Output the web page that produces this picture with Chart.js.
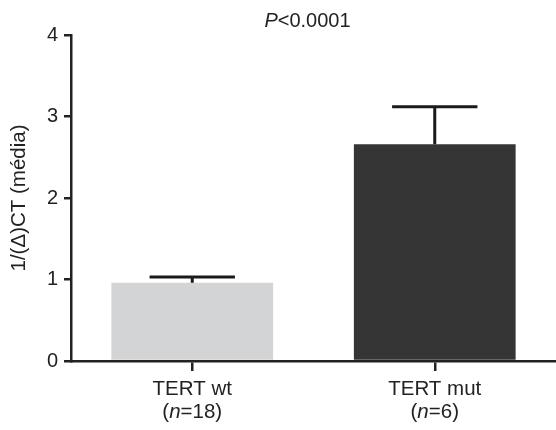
<!DOCTYPE html>
<html>
<head>
<meta charset="utf-8">
<script src="https://cdn.jsdelivr.net/npm/chart.js@4.4.1/dist/chart.umd.min.js"></script>
<style>
    html, body { margin: 0; padding: 0; background: #fff; }
    #wrap { width: 556px; height: 430px; position: relative; }
</style>
</head>
<body>
<div id="wrap"><canvas id="ct_chart"></canvas></div>
<script>
const groups = ['TERT wt', 'TERT mut'];
const groupN = ['18', '6'];
const means = [0.96, 2.66];
const errors = [0.07, 0.46];
const yTicks = [0, 1, 2, 3, 4];
const pLabel = '<0.0001';

const FONT = "'Liberation Sans', Arial, Helvetica, sans-serif";
const INK = '#222222';

// error bars (upper half only), cap + stem
const errorBars = {
    id: 'errorBars',
    afterDatasetsDraw(chart) {
        const { ctx, scales: { x, y } } = chart;
        ctx.save();
        ctx.strokeStyle = '#1a1a1a';
        ctx.lineWidth = 3;
        means.forEach((m, i) => {
            const cx = x.getPixelForValue(i);
            const yTop = y.getPixelForValue(m + errors[i]);
            const yBar = y.getPixelForValue(m);
            const step = x.getPixelForValue(1) - x.getPixelForValue(0);
            const capHalf = step * 0.176;
            ctx.beginPath();
            ctx.moveTo(cx, yBar);
            ctx.lineTo(cx, yTop);
            ctx.moveTo(cx - capHalf, yTop);
            ctx.lineTo(cx + capHalf, yTop);
            ctx.stroke();
        });
        ctx.restore();
    }
};

// title with italic P and two-line category labels with italic n
const textBits = {
    id: 'textBits',
    afterDraw(chart) {
        const { ctx, chartArea, scales: { x } } = chart;
        ctx.save();
        ctx.fillStyle = INK;
        ctx.textBaseline = 'middle';

        function mixed(parts, cx, cy) {
            let total = 0;
            parts.forEach(p => { ctx.font = p.font; total += ctx.measureText(p.t).width; });
            let px = cx - total / 2;
            ctx.textAlign = 'left';
            parts.forEach(p => {
                ctx.font = p.font;
                ctx.fillText(p.t, px, cy);
                px += ctx.measureText(p.t).width;
            });
        }

        const titleX = (chartArea.left + chartArea.right) / 2 - 6;
        mixed([
            { t: 'P', font: 'italic 20px ' + FONT },
            { t: pLabel, font: '20px ' + FONT }
        ], titleX, 21);

        groups.forEach((g, i) => {
            const cx = x.getPixelForValue(i);
            mixed([{ t: g, font: '20.5px ' + FONT }], cx, chartArea.bottom + 28);
            mixed([
                { t: '(', font: '20.5px ' + FONT },
                { t: 'n', font: 'italic 20.5px ' + FONT },
                { t: '=' + groupN[i] + ')', font: '20.5px ' + FONT }
            ], cx, chartArea.bottom + 51);
        });
        ctx.restore();
    }
};

const ctx = document.getElementById('ct_chart').getContext('2d');

const ctChart = new Chart(ctx, {
    type: 'bar',
    data: {
        labels: groups,
        datasets: [{
            data: means,
            backgroundColor: ['#d3d4d6', '#353535'],
            borderWidth: 0,
            barPercentage: 0.667,
            categoryPercentage: 1
        }]
    },
    options: {
        responsive: true,
        maintainAspectRatio: false,
        animation: false,
        layout: { padding: { top: 35, right: 0, left: 0, bottom: 0 } },
        plugins: {
            legend: { display: false },
            tooltip: { enabled: false },
            title: { display: false }
        },
        scales: {
            x: {
                grid: {
                    offset: false,
                    drawOnChartArea: false,
                    drawTicks: true,
                    tickLength: 10,
                    color: INK,
                    lineWidth: 2.5
                },
                border: { color: INK, width: 2.5 },
                ticks: { display: false },
                afterFit(scale) { scale.height = 69; }
            },
            y: {
                min: 0,
                max: 4,
                afterBuildTicks(scale) { scale.ticks = yTicks.map(v => ({ value: v })); },
                grid: {
                    drawOnChartArea: false,
                    drawTicks: true,
                    tickLength: 7,
                    color: INK,
                    lineWidth: 2.5
                },
                border: { color: INK, width: 2.5 },
                ticks: {
                    color: INK,
                    padding: 6,
                    font: { family: FONT, size: 20 }
                },
                title: {
                    display: true,
                    text: '1/(\u0394)CT (média)',
                    color: INK,
                    font: { family: FONT, size: 20.5 },
                    padding: { top: 7, bottom: 0 }
                },
                afterFit(scale) { scale.width = 71; }
            }
        }
    },
    plugins: [errorBars, textBits]
});
</script>
</body>
</html>
